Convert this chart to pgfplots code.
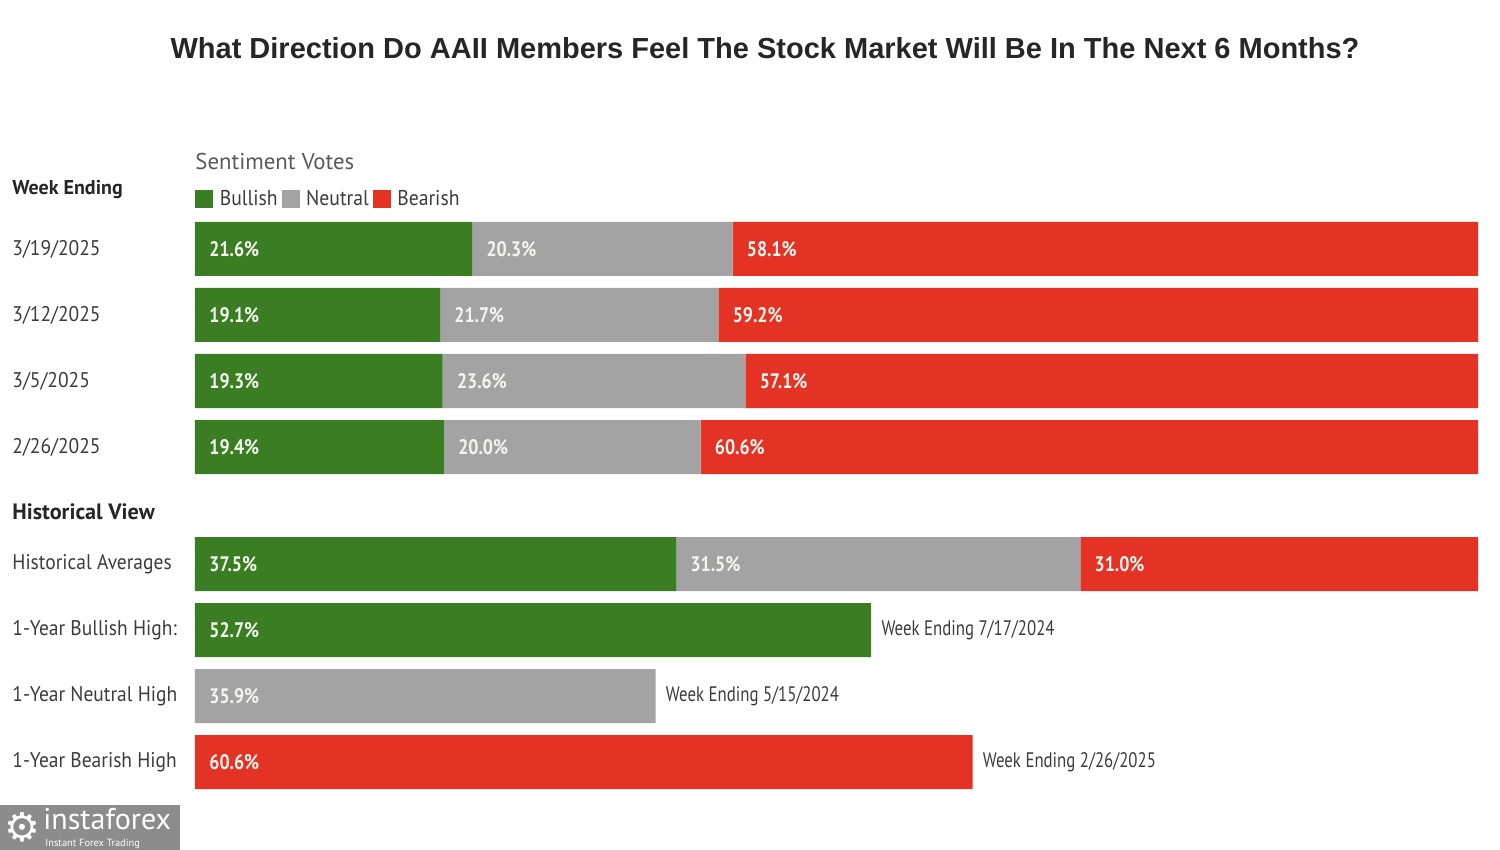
\documentclass[border=0pt]{standalone}
\usepackage{pgfplots}
\pgfplotsset{compat=1.18}
\usepackage{pgfplotstable}
\usepackage{fontspec}
\setmainfont{PT Sans}
\newfontfamily\rowfont[FakeStretch=0.92]{PT Sans}
\newfontfamily\notefont[FakeStretch=0.8]{PT Sans}
\newfontfamily\barfont[FakeStretch=0.85]{PT Sans}
\newfontfamily\titlefont{Liberation Sans}
\newfontfamily\symfont{DejaVu Sans}
\definecolor{bull}{HTML}{3A7D22}
\definecolor{neut}{HTML}{A3A3A3}
\definecolor{bear}{HTML}{E43325}
\definecolor{lbl}{HTML}{3C3C3C}
\definecolor{barlbl}{HTML}{F3F6EE}
\definecolor{wm}{HTML}{8C8C8C}

\pgfplotstableread{
y bull neut bear
249 21.6 20.3 58.1
315 19.1 21.7 59.2
381 19.3 23.6 57.1
447 19.4 20.0 60.6
564 37.5 31.5 31.0
630 52.7 0 0
696 0 35.9 0
762 0 0 60.6
}\sentdata

\tikzset{
  barlab/.style={anchor=west, inner sep=0pt, font=\barfont\bfseries\fontsize{10.5}{12}\selectfont, text=barlbl},
  sidenote/.style={anchor=west, inner sep=0pt, xshift=5pt, font=\notefont\fontsize{10.5}{12}\selectfont, text=lbl},
}

\begin{document}
\begin{tikzpicture}
\path[use as bounding box] (-97.5pt,0pt) rectangle (652.5pt,425pt);
\begin{axis}[
  at={(0pt,0pt)}, anchor=south west,
  scale only axis, width=641.5pt, height=425pt,
  xmin=0, xmax=100, ymin=0, ymax=850, y dir=reverse,
  xbar stacked, bar width=54,
  axis line style={draw=none}, xtick=\empty,
  ytick={249,315,381,447,564,630,696,762},
  yticklabels={3/19/2025,3/12/2025,3/5/2025,2/26/2025,Historical Averages,1-Year Bullish High:,1-Year Neutral High,1-Year Bearish High},
  major tick length=0pt,
  yticklabel style={anchor=west, xshift=-91.5pt, inner sep=0pt, font=\rowfont\fontsize{10.6}{12}\selectfont, text=lbl},
  clip=false,
  legend columns=3,
  legend style={at={(axis cs:0,199)}, anchor=west, draw=none, fill=none, inner sep=0pt,
    font=\rowfont\fontsize{10.7}{12}\selectfont, text=lbl,
    /tikz/every odd column/.append style={column sep=1.2pt}},
  legend image code/.code={\fill[#1] (0pt,-4.5pt) rectangle (9pt,4.5pt);},
]
\addplot[fill=bull, draw=none] table[x=bull, y=y] {\sentdata};
\addplot[fill=neut, draw=none] table[x=neut, y=y] {\sentdata};
\addplot[fill=bear, draw=none] table[x=bear, y=y] {\sentdata};
\legend{Bullish, Neutral, Bearish}

% title and headers
\node[font=\titlefont\bfseries\fontsize{14.5}{17}\selectfont, text=black!85] at (axis cs:44.43,48) {What Direction Do AAII Members Feel The Stock Market Will Be In The Next 6 Months?};
\node[anchor=west, inner sep=0pt, font=\fontsize{11.4}{13}\selectfont, text=lbl!85] at (axis cs:0,162) {Sentiment Votes};
\node[anchor=west, inner sep=0pt, xshift=-91.5pt, font=\bfseries\fontsize{10}{12}\selectfont, text=black!85] at (axis cs:0,190) {Week Ending};
\node[anchor=west, inner sep=0pt, xshift=-91.5pt, font=\bfseries\fontsize{11.1}{13}\selectfont, text=black!85] at (axis cs:0,512) {Historical View};

% side notes
\node[sidenote] at (axis cs:52.7,630) {Week Ending 7/17/2024};
\node[sidenote] at (axis cs:35.9,696) {Week Ending 5/15/2024};
\node[sidenote] at (axis cs:60.6,762) {Week Ending 2/26/2025};
\end{axis}

% bar value labels (x = segment start in pt + 7pt, y in pt)
\foreach \x/\y/\t in {7/300.5/21.6, 145.56/300.5/20.3, 275.79/300.5/58.1,
                      7/267.5/19.1, 129.53/267.5/21.7, 268.73/267.5/59.2,
                      7/234.5/19.3, 130.81/234.5/23.6, 282.20/234.5/57.1,
                      7/201.5/19.4, 131.45/201.5/20.0, 259.75/201.5/60.6,
                      7/143/37.5, 247.56/143/31.5, 449.64/143/31.0,
                      7/110/52.7, 7/77/35.9, 7/44/60.6}
  \node[barlab] at (\x pt,\y pt) {\t\%};

% watermark
\fill[wm] (-97.5pt,0pt) rectangle (-7.5pt,22.5pt);
\node[anchor=west, inner sep=0pt, text=white, font=\symfont\fontsize{20}{20}\selectfont] at (-95.5pt,11.25pt) {⚙};
\node[anchor=south west, inner sep=0pt, text=white, align=left] at (-76pt,0.4pt)
  {\fontsize{15}{8.3}\selectfont instaforex\\[-3.7pt]{\fontsize{5.2}{8.3}\selectfont\hspace{1pt}Instant Forex Trading}};
\end{tikzpicture}
\end{document}
